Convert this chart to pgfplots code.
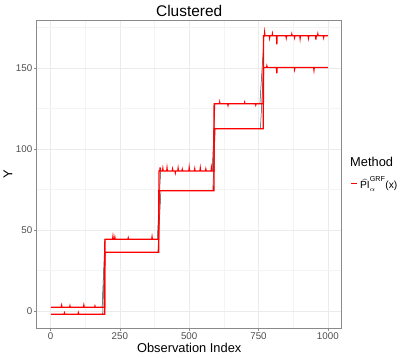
\documentclass[border=0pt]{standalone}
\usepackage{amsmath}
\usepackage{pgfplots}
\pgfplotsset{compat=1.18}
\usepackage{fontspec}
\setmainfont{Liberation Sans}

\definecolor{gridmaj}{HTML}{EBEBEB}
\definecolor{gridmin}{HTML}{F4F4F4}
\definecolor{frame}{HTML}{8A8A8A}
\definecolor{ticktxt}{HTML}{4D4D4D}

\begin{document}
\begin{tikzpicture}
\path[use as bounding box] (0,0) rectangle (412bp,359bp);
\begin{axis}[
    at={(36.7bp,30.7bp)}, anchor=south west,
    scale only axis,
    width=305bp, height=307.6bp,
    xmin=-50, xmax=1050,
    ymin=-10.7, ymax=179.1,
    xtick={0,250,500,750,1000},
    ytick={0,50,100,150},
    minor xtick={125,375,625,875},
    minor ytick={25,75,125,175},
    grid=both,
    major grid style={gridmaj, line width=0.55bp},
    minor grid style={gridmin, line width=0.3bp},
    axis line style={frame, line width=0.6bp},
    tick align=outside,
    tick pos=left,
    major tick length=2.75bp,
    minor tick length=0pt,
    tick style={frame, line width=0.55bp},
    tick label style={font=\fontsize{9.8}{11}\selectfont, text=ticktxt},
    /pgf/number format/assume math mode=true,
    /pgf/number format/1000 sep={},
    scaled ticks=false,
    xticklabel style={inner sep=1.5pt},
    yticklabel style={inner sep=1.5pt},
    unbounded coords=jump,
    legend style={at={(axis description cs:1,0.471)}, anchor=west,
        xshift=6bp, draw=none, fill=none,
        font=\fontsize{10.3}{12}\selectfont,
        /tikz/every even column/.append style={column sep=10bp}},
    legend cell align=left,
    legend image code/.code={\draw[red, line width=1.2bp] (0bp,0bp) -- (6bp,0bp);},
]
% black series: visible only at the transitions (red covers the rest)
\addplot[black!75, line width=0.5bp, forget plot] coordinates {
(180,2.3)(186,2.3)(196,44.2)(205,44.2) (nan,nan)
(378,44.2)(385,44.2)(397,86.4)(405,86.4) (nan,nan)
(577,86.4)(583,86.4)(593,127.8)(600,127.8) (nan,nan)
(748,127.8)(755,127.8)(770,169.8)(778,169.8)
};
\addplot[black!75, line width=0.5bp, forget plot] coordinates {
(182,-2.0)(188,-2.0)(196,36.2)(205,36.2) (nan,nan)
(380,36.2)(387,36.2)(398,74.2)(406,74.2) (nan,nan)
(579,74.2)(585,74.2)(594,112.4)(602,112.4) (nan,nan)
(750,112.4)(757,112.4)(768,150.2)(776,150.2)
};
% red lower bound
\addplot[red, line width=1.3bp, forget plot] coordinates {
(1,-2.0)(49,-2.0)(50,-1.4)(51,-2.0)(99,-2.0)(100,-1.3)(101,-2.0)(195,-2.0)
(196,36.2)(390,36.2)
(391,74.2)(589,74.2)
(590,112.4)(767,112.4)
(768,150.2)(779,150.2)(780,151.0)(781,150.2)(815,150.2)(816,146.6)(817,150.2)(879,150.2)(880,149.2)(881,150.2)(949,150.2)(950,148.9)(951,150.2)(1000,150.2)
};
% red upper bound
\addplot[red, line width=1.3bp] coordinates {
(1,2.3)(39,2.3)(40,3.2)(41,2.3)(69,2.3)(70,3.0)(71,2.3)(119,2.3)(120,3.3)(121,2.3)(159,2.3)(160,2.9)(161,2.3)(195,2.3)
(196,44.2)(224,44.2)(225,45.6)(226,44.2)(231,44.2)(232,45.2)(233,44.2)(279,44.2)(280,44.9)(281,44.2)(365,44.2)(366,45.4)(367,44.2)(390,44.2)
(391,86.4)(394,86.4)(395,88.6)(396,86.4)(404,86.4)(405,87.6)(406,86.4)(419,86.4)(420,87.9)(421,86.4)(439,86.4)(440,87.3)(441,86.4)(449,86.4)(450,85.5)(451,86.4)(459,86.4)(460,87.7)(461,86.4)(474,86.4)(475,87.2)(476,86.4)(499,86.4)(500,88.0)(501,86.4)(519,86.4)(520,87.4)(521,86.4)(539,86.4)(540,87.8)(541,86.4)(559,86.4)(560,87.3)(561,86.4)(579,86.4)(580,87.9)(581,86.4)(589,86.4)
(590,127.8)(609,127.8)(610,128.7)(611,127.8)(639,127.8)(640,127.0)(641,127.8)(699,127.8)(700,128.5)(701,127.8)(739,127.8)(740,127.2)(741,127.8)(767,127.8)
(768,169.8)(771,169.8)(772,171.5)(773,169.8)(789,169.8)(790,168.7)(791,169.8)(799,169.8)(800,170.8)(801,169.8)(815,169.8)(816,164.5)(817,169.8)(849,169.8)(850,168.8)(851,169.8)(869,169.8)(870,170.6)(871,169.8)(879,169.8)(880,168.9)(881,169.8)(899,169.8)(900,168.4)(901,169.8)(929,169.8)(930,168.7)(931,169.8)(956,169.8)(957,167.4)(958,169.8)(963,169.8)(964,170.7)(965,169.8)(984,169.8)(985,168.9)(986,169.8)(1000,169.8)
};
\addlegendentry{$\widehat{\text{PI}}^{\text{GRF}}_{\alpha}$(x)}
\end{axis}
% titles and labels
\node[font=\fontsize{15.5}{18}\selectfont] at (189.2bp,348bp) {Clustered};
\node[font=\fontsize{12.9}{15}\selectfont] at (189.2bp,11bp) {Observation Index};
\node[font=\fontsize{12.9}{15}\selectfont, rotate=90] at (8bp,184.5bp) {Y};
\node[font=\fontsize{12.9}{15}\selectfont, anchor=west, inner sep=0pt] at (350bp,197bp) {Method};
\end{tikzpicture}
\end{document}
